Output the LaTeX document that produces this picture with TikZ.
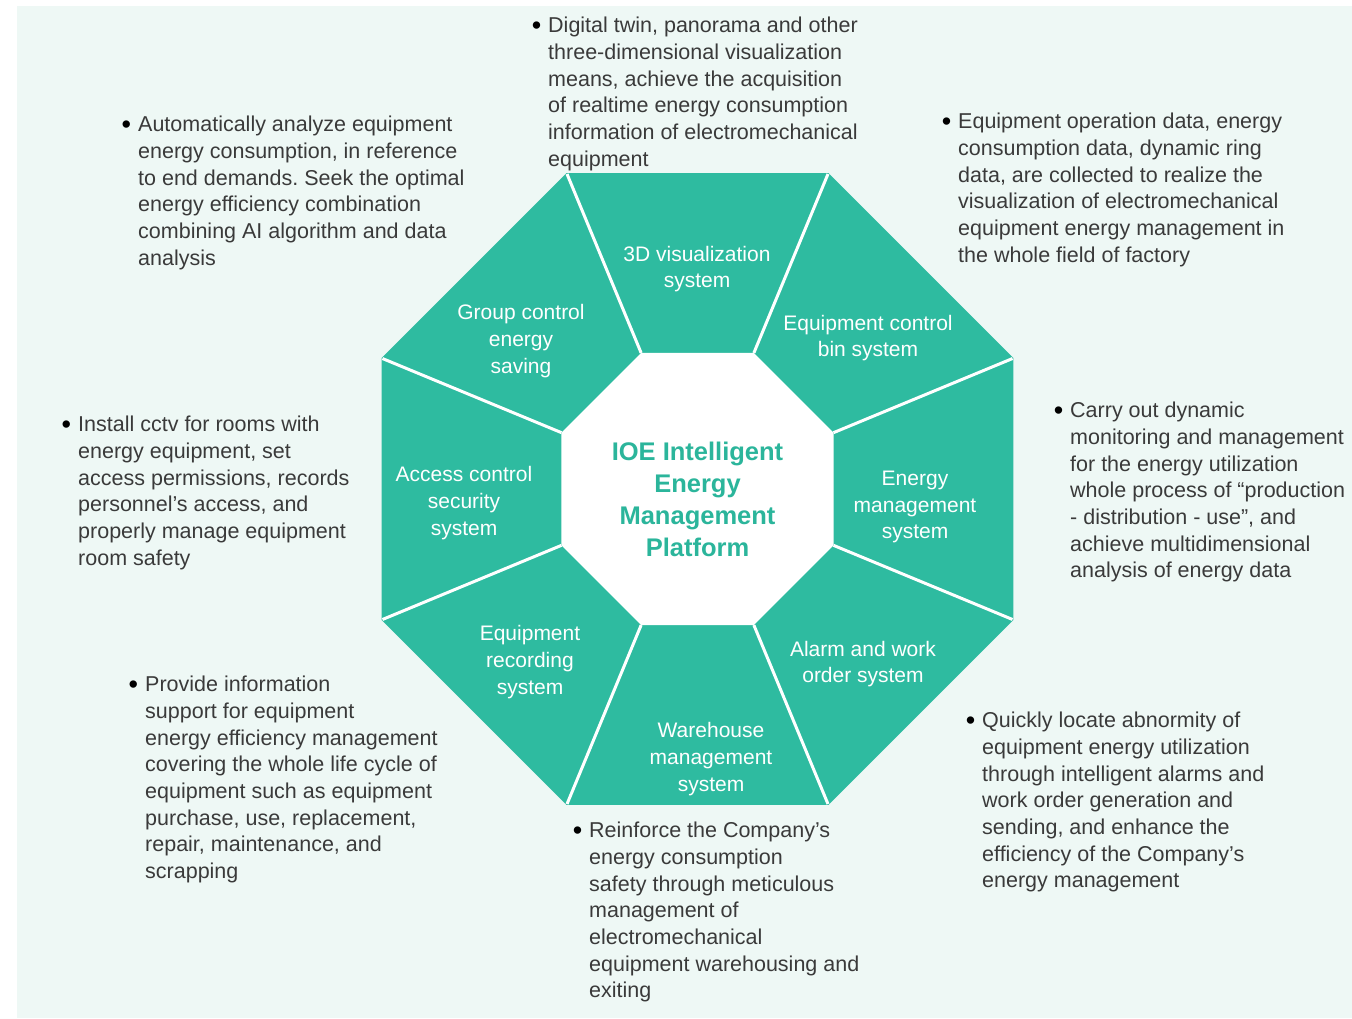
\documentclass[tikz,border=0pt]{standalone}
\usepackage{fontspec}
\setmainfont{Liberation Sans}
\usetikzlibrary{calc}
\definecolor{ioeteal}{HTML}{2EBBA0}
\definecolor{ioetitle}{HTML}{2BB59B}
\definecolor{ioebg}{HTML}{EEF8F5}
\definecolor{ioetext}{HTML}{3A3A3A}
\newcommand{\bul}{\llap{\raisebox{-1.5pt}{\fontsize{27}{27}\selectfont\color{black}\textbullet}\hspace{7pt}}}
\frenchspacing

\begin{document}
\begin{tikzpicture}[x=1pt,y=-1pt,
		segtext/.style={text=white,align=center,font=\fontsize{21}{26.8}\selectfont},
		note/.style={text=ioetext,align=left,anchor=north west,inner sep=0pt,font=\fontsize{21.5}{26.7}\selectfont}]
		\useasboundingbox (0,0) rectangle (1352,1018);
		\fill[ioebg] (17,6) rectangle (1352,1018);

		% octagon ring
		\coordinate (c) at (697.5,489);
		\fill[ioeteal] ($(c)+(22.5:342)$) \foreach \a in {67.5,112.5,...,337.5} {-- ($(c)+(\a:342)$)} -- cycle;
		\fill[white] ($(c)+(22.5:147.3)$) \foreach \a in {67.5,112.5,...,337.5} {-- ($(c)+(\a:147.3)$)} -- cycle;
		\foreach \a in {22.5,67.5,...,337.5}
			\draw[white,line width=3pt] ($(c)+(\a:147.3)$) -- ($(c)+(\a:341)$);

		\node[text=ioetitle,align=center,font=\fontsize{25.5}{32}\bfseries] (title) at (697.5,499) {IOE Intelligent\\Energy\\Management\\Platform};

		\node[segtext] (vis) at (697,269) {3D visualization\\system};
		\node[segtext] (bin) at (868,338) {Equipment control\\bin system};
		\node[segtext] (energy) at (915,507) {Energy\\management\\system};
		\node[segtext] (alarm) at (863,664) {Alarm and work\\order system};
		\node[segtext] (warehouse) at (711,759) {Warehouse\\management\\system};
		\node[segtext] (record) at (530,662) {Equipment\\recording\\system};
		\node[segtext] (access) at (464,503) {Access control\\security\\system};
		\node[segtext] (group) at (521,341) {Group control\\energy\\saving};

		% notes round the ring
		\node[note] (visnote) at (548,17) {\bul Digital twin, panorama and other\\three-dimensional visualization\\means, achieve the acquisition\\of realtime energy consumption\\information of electromechanical\\equipment};
		\node[note] (groupnote) at (138,116) {\bul Automatically analyze equipment\\energy consumption, in reference\\to end demands. Seek the optimal\\energy efficiency combination\\combining AI algorithm and data\\analysis};
		\node[note] (binnote) at (958,113) {\bul Equipment operation data, energy\\consumption data, dynamic ring\\data, are collected to realize the\\visualization of electromechanical\\equipment energy management in\\the whole field of factory};
		\node[note] (accessnote) at (78,416) {\bul Install cctv for rooms with\\energy equipment, set\\access permissions, records\\personnel’s access, and\\properly manage equipment\\room safety};
		\node[note] (energynote) at (1070,402) {\bul Carry out dynamic\\monitoring and management\\for the energy utilization\\whole process of “production\\- distribution - use”, and\\achieve multidimensional\\analysis of energy data};
		\node[note] (recordnote) at (145,676) {\bul Provide information\\support for equipment\\energy efficiency management\\covering the whole life cycle of\\equipment such as equipment\\purchase, use, replacement,\\repair, maintenance, and\\scrapping};
		\node[note] (warehousenote) at (589,822) {\bul Reinforce the Company’s\\energy consumption\\safety through meticulous\\management of\\electromechanical\\equipment warehousing and\\exiting};
		\node[note] (alarmnote) at (982,712) {\bul Quickly locate abnormity of\\equipment energy utilization\\through intelligent alarms and\\work order generation and\\sending, and enhance the\\efficiency of the Company’s\\energy management};
	\end{tikzpicture}
\end{document}
